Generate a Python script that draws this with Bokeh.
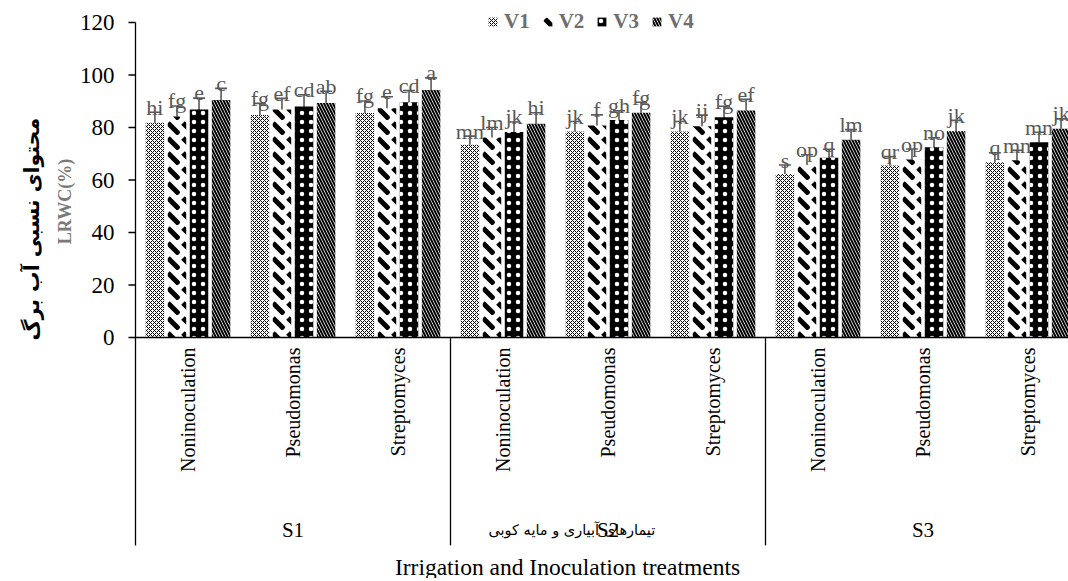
import math
from bokeh.plotting import figure
from bokeh.models import (ColumnDataSource, Range1d, Whisker, TeeHead,
                          Label, Legend, LegendItem)
from bokeh.core.properties import value
from bokeh.embed import file_html
from bokeh.resources import INLINE

# ---------------- data ----------------
groups = ["S1", "S2", "S3"]
inoculations = ["Noninoculation", "Pseudomonas", "Streptomyces"]
varieties = ["V1", "V2", "V3", "V4"]

v1 = [81.8, 84.8, 85.5, 73.4, 78.5, 78.5, 62.3, 65.5, 66.8]
v2 = [84.2, 86.9, 87.3, 76.2, 80.8, 80.5, 65.8, 67.8, 67.5]
v3 = [86.9, 88.0, 89.6, 78.3, 82.9, 83.9, 68.5, 72.5, 74.4]
v4 = [90.5, 89.3, 94.3, 81.4, 85.6, 86.5, 75.3, 78.6, 79.5]

e1 = [4.0, 4.4, 4.6, 3.3, 3.8, 3.8, 3.4, 3.4, 3.6]
e2 = [4.0, 4.2, 4.4, 3.8, 4.0, 4.2, 3.8, 4.0, 3.8]
e3 = [4.3, 4.5, 4.5, 3.8, 3.5, 4.2, 3.2, 3.6, 3.8]
e4 = [4.4, 4.5, 4.6, 4.2, 4.0, 4.2, 3.9, 4.1, 3.8]

l1 = ["hi", "fg", "fg", "mn", "jk", "jk", "s", "qr", "q"]
l2 = ["fg", "ef", "e", "lm", "f", "ij", "op", "op", "mn"]
l3 = ["e", "cd", "cd", "jk", "gh", "fg", "q", "no", "mn"]
l4 = ["c", "ab", "a", "hi", "fg", "ef", "lm", "jk", "jk"]

y_ticks = [0, 20, 40, 60, 80, 100, 120]

y_title_fa = "محتوای نسبی آب برگ"
y_title_en = "LRWC(%)"
x_title_en = "Irrigation and Inoculation treatments"
x_title_fa = "تیمارهای آبیاری و مایه کوبی"

# ---------------- layout ----------------
SERIF = "Liberation Serif"
FA = "DejaVu Sans"
GRAY = "#595959"

W, H = 1068, 578
X0, PX_X = 135.0, 105.0      # page x of category-axis origin, px per category
Y0, PX_Y = 337.0, 2.625      # page y of value 0, px per unit

n_cat = len(groups) * len(inoculations)
cat_x = [i + 0.5 for i in range(n_cat)]
offsets = [-0.315, -0.105, 0.105, 0.315]
bar_w = 0.176
y_axis_bottom = -79.2
y_max = y_ticks[-1]

p = figure(width=W, height=H, output_backend="svg", toolbar_location=None,
           x_range=Range1d(-X0 / PX_X, (W - X0) / PX_X),
           y_range=Range1d((Y0 - H) / PX_Y, Y0 / PX_Y),
           x_axis_location=None, y_axis_location=None,
           min_border=0, min_border_left=0, min_border_right=0,
           min_border_top=0, min_border_bottom=0)
p.outline_line_color = None
p.xgrid.visible = False
p.ygrid.visible = False

# ---- value axis (drawn in data space) ----
p.segment(x0=[0], y0=[y_axis_bottom], x1=[0], y1=[y_max], line_color="black", line_width=1.3)
p.ray(x=[0] * len(y_ticks), y=y_ticks, length=7, length_units="screen", angle=math.pi,
      line_color="black", line_width=1.3)
p.text(x=[0] * len(y_ticks), y=y_ticks, text=[str(t) for t in y_ticks], x_offset=-21,
       text_align="right", text_baseline="middle", text_font=value(SERIF),
       text_font_size="23px", text_color="black")

styles = [
    dict(fill_color="white", hatch_pattern="diagonal_cross", hatch_scale=4, hatch_weight=1, hatch_color="black"),
    dict(fill_color="white", hatch_pattern="left_diagonal_dash", hatch_scale=15, hatch_weight=5, hatch_color="black"),
    dict(fill_color="black", hatch_pattern="dot", hatch_scale=9, hatch_weight=1, hatch_color="white"),
    dict(fill_color="white", hatch_pattern="left_diagonal_line", hatch_scale=6, hatch_weight=2, hatch_color="black"),
]

vals = [v1, v2, v3, v4]
errs = [e1, e2, e3, e4]
lets = [l1, l2, l3, l4]
renderers = []
for k in range(4):
    xs = [c + offsets[k] for c in cat_x]
    src = ColumnDataSource(dict(
        x=xs, top=vals[k],
        upper=[v + e for v, e in zip(vals[k], errs[k])],
        lower=[v - e for v, e in zip(vals[k], errs[k])],
        letter=lets[k]))
    r = p.vbar(x="x", top="top", bottom=0, width=bar_w, source=src, line_color=None, **styles[k])
    renderers.append(r)
    w = Whisker(source=src, base="x", upper="upper", lower="lower",
                line_color=GRAY, line_width=1.6,
                upper_head=TeeHead(size=12, line_color=GRAY, line_width=1.6),
                lower_head=TeeHead(size=12, line_color=GRAY, line_width=1.6))
    p.add_layout(w)
    p.text(x="x", y="upper", text="letter", source=src, text_align="center",
           text_baseline="alphabetic", y_offset=-5, text_font=value(SERIF),
           text_font_size="22px", text_color=GRAY)

# ---- category axis ----
x_end = float(n_cat)
p.segment(x0=[0], y0=[0], x1=[x_end], y1=[0], line_color="black", line_width=1.3)
sep_x = [len(inoculations) * g for g in range(1, len(groups))]
p.segment(x0=sep_x, y0=[0] * len(sep_x), x1=sep_x, y1=[y_axis_bottom] * len(sep_x),
          line_color="black", line_width=1.3)

cat_labels = inoculations * len(groups)
p.text(x=cat_x, y=[0] * n_cat, text=cat_labels, angle=math.pi / 2,
       text_align="right", text_baseline="middle", y_offset=10,
       text_font=value(SERIF), text_font_size="20px", text_color="black")

grp_x = [len(inoculations) * g + len(inoculations) / 2 for g in range(len(groups))]
grp_y = -73.5
p.text(x=grp_x, y=[grp_y] * len(groups), text=groups, text_align="center",
       text_baseline="middle", text_font=value(SERIF), text_font_size="21px",
       text_color="black")

# persian x title overlapping S2 (left edge placed)
p.add_layout(Label(x=(488 - X0) / PX_X, y=grp_y, text=x_title_fa,
                   text_align="left", text_baseline="middle", text_font=FA,
                   text_font_size="14.5px", text_color="black"))
# english x title
p.add_layout(Label(x=(567 - X0) / PX_X, y=(Y0 - 566) / PX_Y, text=x_title_en,
                   text_align="center", text_baseline="middle", text_font=SERIF,
                   text_font_size="23.5px", text_color="black"))
# y titles
p.add_layout(Label(x=(31 - X0) / PX_X, y=(Y0 - 340) / PX_Y, text=y_title_fa,
                   angle=math.pi / 2, text_align="left", text_baseline="middle",
                   text_font=FA, text_font_style="bold", text_font_size="20.5px",
                   text_color="black"))
p.add_layout(Label(x=(64 - X0) / PX_X, y=(Y0 - 201) / PX_Y, text=y_title_en,
                   angle=math.pi / 2, text_align="center", text_baseline="middle",
                   text_font=SERIF, text_font_style="bold", text_font_size="18px",
                   text_color="#7a7a7a"))

legend = Legend(items=[LegendItem(label=varieties[k], renderers=[renderers[k]]) for k in range(4)],
                location=(487, H - 22 - 12), orientation="horizontal",
                glyph_width=11, glyph_height=11, label_standoff=6, spacing=12,
                label_height=24, padding=0, margin=0, border_line_color=None,
                background_fill_alpha=0,
                label_text_font=SERIF, label_text_font_style="bold",
                label_text_font_size="21px", label_text_color="#6e6e6e")
p.add_layout(legend, "center")

open("out.html", "w").write(file_html(p, INLINE))
